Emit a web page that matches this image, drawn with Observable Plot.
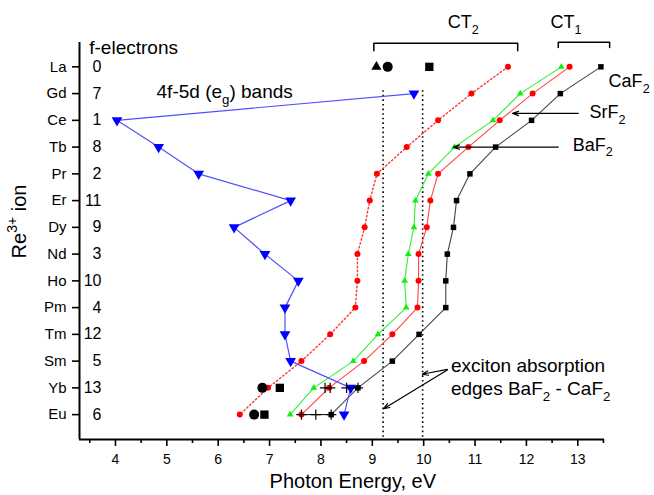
<!DOCTYPE html>
<html><head><meta charset="utf-8">
<script src="https://cdn.jsdelivr.net/npm/d3@7"></script>
<script src="https://cdn.jsdelivr.net/npm/@observablehq/plot@0.6"></script>
<style>
body{margin:0;background:#fff;}
#chart svg{display:block;}
</style></head><body><div id="chart"></div>
<script>
// ---- data ----
const ions = ["La","Gd","Ce","Tb","Pr","Er","Dy","Nd","Ho","Pm","Tm","Sm","Yb","Eu"];
const fElectrons = [0,7,1,8,2,11,9,3,10,4,12,5,13,6];
const bands4f5d = [null,9.81,4.03,4.84,5.62,7.41,6.31,6.91,7.56,7.30,7.30,7.41,8.58,8.45];
const dottedRed = [11.64,10.93,10.28,9.67,9.09,8.95,8.85,8.71,8.71,8.67,8.18,7.62,6.97,6.42];
const baF2 = [12.68,11.88,11.35,10.60,10.09,9.84,9.81,9.70,9.63,9.66,9.11,8.63,7.86,7.40];
const srF2 = [12.84,12.12,11.48,10.87,10.28,10.13,10.06,9.90,9.90,9.88,9.39,8.84,8.16,7.62];
const caF2 = [13.45,12.66,12.10,11.40,10.90,10.64,10.58,10.46,10.43,10.43,9.91,9.39,8.72,8.20];
const crossIons = ["Eu","Eu","Eu","Yb","Yb","Yb","Yb"];
const crossEnergy = [7.62,7.90,8.20,8.08,8.18,8.50,8.72];
const crossGroup = ["a","a","a","b","b","c","c"];
const extraIons = ["La","La","La","Yb","Yb","Eu","Eu"];
const extraEnergy = [9.08,9.30,10.11,6.86,7.20,6.70,6.90];
const extraShape = ["triangle","circle","square","circle","square","circle","square"];
const excitonEdges = [9.21, 9.98];
const xTicks = [4,5,6,7,8,9,10,11,12,13];
const xMinorTicks = [3.5,4.5,5.5,6.5,7.5,8.5,9.5,10.5,11.5,12.5,13.5];

// ---- tables ----
const idx = Object.fromEntries(ions.map((d,i)=>[d,i]));
const rows = ions.map((ion,i)=>({ion, i, f:fElectrons[i], band:bands4f5d[i], dotted:dottedRed[i], ba:baF2[i], sr:srF2[i], ca:caF2[i]}));
const bandRows = rows.filter(d=>d.band!=null);
const crosses = crossIons.map((ion,k)=>({i:idx[ion], e:crossEnergy[k], g:crossGroup[k]}));
const extras = extraIons.map((ion,k)=>({i:idx[ion], e:extraEnergy[k], s:extraShape[k]}));

const xDomain = [3.3, 13.52];
const yDomain = [-0.91, 13.93];

const triangleDown = {
  draw(context, size) {
    const y = -Math.sqrt(size / (Math.sqrt(3) * 3));
    context.moveTo(0, -2 * y);
    context.lineTo(-Math.sqrt(3) * y, y);
    context.lineTo(Math.sqrt(3) * y, y);
    context.closePath();
  }
};

const label = (str, x, y, opts={}) => Plot.text([str], {x, y, text:d=>d, textAnchor:"start", fontSize:18, ...opts});

const svg = Plot.plot({
  width: 654, height: 495,
  marginLeft: 79, marginRight: 50, marginTop: 42, marginBottom: 56,
  style: {fontFamily: "Liberation Sans, Arial, sans-serif", fontSize: "15px", background: "white", color: "black"},
  x: {domain: xDomain, label: null},
  y: {domain: yDomain, reverse: true, label: null},
  marks: [
    // exciton edges
    Plot.ruleX(excitonEdges, {y1: 0.89, y2: yDomain[1], stroke: "#000", strokeDasharray: "1.6,3", strokeWidth: 1.6}),
    // series lines
    Plot.line(rows, {x:"dotted", y:"i", stroke:"#ff3333", strokeDasharray:"1.5,2.5", strokeWidth:1.4}),
    Plot.line(rows, {x:"ca", y:"i", stroke:"#444", strokeWidth:1.1}),
    Plot.line(rows, {x:"sr", y:"i", stroke:"#ff4444", strokeWidth:1.1}),
    Plot.line(rows, {x:"ba", y:"i", stroke:"#33ee33", strokeWidth:1.1}),
    Plot.line(bandRows, {x:"band", y:"i", stroke:"#5050ff", strokeWidth:1.2}),
    Plot.line(crosses, {x:"e", y:"i", z:"g", stroke:"#000", strokeWidth:1}),
    // markers
    Plot.dot(rows, {x:"dotted", y:"i", r:3, fill:"#ff0000", stroke:"none"}),
    Plot.dot(rows, {x:"ca", y:"i", symbol:"square", r:3.1, fill:"#000", stroke:"none"}),
    Plot.dot(rows, {x:"sr", y:"i", r:3, fill:"#ff0000", stroke:"none"}),
    Plot.dot(rows, {x:"ba", y:"i", symbol:"triangle", r:2.5, fill:"#11ee11", stroke:"none"}),
    Plot.dot(bandRows, {x:"band", y:"i", symbol:triangleDown, r:4, fill:"#0000ff", stroke:"none"}),
    Plot.dot(crosses, {x:"e", y:"i", symbol:"plus", r:3.4, stroke:"#000", strokeWidth:1.2}),
    Plot.dot(extras.filter(d=>d.s==="circle"), {x:"e", y:"i", r:5, fill:"#000", stroke:"none"}),
    Plot.dot(extras.filter(d=>d.s==="square"), {x:"e", y:"i", symbol:"square", r:4.7, fill:"#000", stroke:"none"}),
    Plot.dot(extras.filter(d=>d.s==="triangle"), {x:"e", y:"i", symbol:"triangle", r:3.8, fill:"#000", stroke:"none"}),
    // axes
    Plot.ruleX([xDomain[0]], {stroke:"#000", strokeWidth:2}),
    Plot.ruleY([yDomain[1]], {stroke:"#000", strokeWidth:2}),
    Plot.axisX(xTicks, {tickSize:7, tickPadding:8, fontSize:14, strokeWidth:1.6, label:null}),
    Plot.axisX(xMinorTicks, {tickSize:4, text:null, strokeWidth:1.6, label:null}),
    Plot.axisY(d3.range(ions.length), {tickFormat:i=>ions[i], tickSize:7, tickPadding:6, fontSize:15, strokeWidth:1.6, label:null}),
    Plot.text(rows, {y:"i", text:d=>String(d.f), frameAnchor:"left", dx:22, textAnchor:"end", fontSize:16}),
    // axis titles
    Plot.text(["Re^{3+} ion"], {y:7.16, frameAnchor:"left", dx:-60, rotate:-90, text:d=>d, fontSize:20}),
    Plot.text(["Photon Energy, eV"], {x:8.62, frameAnchor:"bottom", dy:48, text:d=>d, fontSize:20}),
    // annotations
    label("f-electrons", 3.49, -0.72, {fontSize:19}),
    label("4f-5d (e_{g}) bands", 4.8, 0.92, {fontSize:19}),
    label("CaF_{2}", 13.6, 0.55),
    label("SrF_{2}", 13.23, 1.71),
    label("BaF_{2}", 12.9, 2.92),
    label("CT_{2}", 10.47, -1.65),
    label("CT_{1}", 12.47, -1.65),
    label("exciton absorption", 10.53, 11.18, {fontSize:19}),
    label("edges BaF_{2} - CaF_{2}", 10.53, 12.05, {fontSize:19}),
    Plot.line([[9.03,-0.6],[9.03,-0.88],[11.83,-0.88],[11.83,-0.6]], {x:d=>d[0], y:d=>d[1], stroke:"#000", strokeWidth:1.5}),
    Plot.line([[12.62,-0.72],[12.62,-0.92],[13.62,-0.92],[13.62,-0.72]], {x:d=>d[0], y:d=>d[1], stroke:"#000", strokeWidth:1.5}),
    Plot.arrow([{x1:13.01,y1:1.74,x2:11.73,y2:1.74},{x1:12.62,y1:3.0,x2:10.58,y2:3.0},
                {x1:10.46,y1:11.31,x2:9.97,y2:11.49},{x1:10.46,y1:11.33,x2:9.22,y2:12.78}],
      {x1:"x1", y1:"y1", x2:"x2", y2:"y2", stroke:"#000", strokeWidth:1.2, headLength:8, headAngle:40})
  ]
});

// sub/superscript post-processing
svg.querySelectorAll("text").forEach(t => {
  const s = t.textContent;
  if (!/[_^]\{/.test(s)) return;
  const parts = s.split(/([_^]\{[^}]*\})/).filter(p=>p.length);
  while (t.firstChild) t.removeChild(t.firstChild);
  let shift = 0;
  const NS = "http://www.w3.org/2000/svg";
  parts.forEach(p => {
    const ts = document.createElementNS(NS, "tspan");
    if (p.startsWith("_{") || p.startsWith("^{")) {
      const sub = p[0] === "_";
      ts.textContent = p.slice(2, -1);
      ts.setAttribute("font-size", "70%");
      const d = sub ? 0.45 : -0.65; // in sub-em units
      ts.setAttribute("dy", d + "em");
      shift = d * 0.7;
    } else {
      ts.textContent = p;
      if (shift) ts.setAttribute("dy", (-shift) + "em");
      shift = 0;
    }
    t.appendChild(ts);
  });
});

document.getElementById("chart").appendChild(svg);
</script></body></html>
